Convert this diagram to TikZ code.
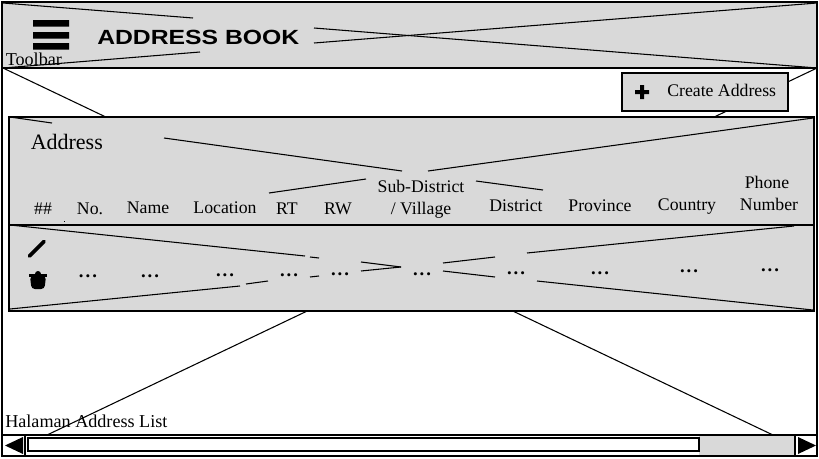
\documentclass[tikz,border=0pt]{standalone}
\usepackage{fontspec}
\setmainfont{Liberation Serif}
\newfontfamily\titlefont{Liberation Sans}
\definecolor{panelgray}{HTML}{D9D9D9}
\newcommand{\dotrow}{\textbf{.\hspace{1.5pt}.\hspace{1.5pt}.}}
\tikzset{
  thinline/.style={line width=0.8pt,black},
  boxline/.style={line width=1.6pt,black},
  grayfill/.style={boxline,fill=panelgray},
  lbl/.style={inner sep=0pt,anchor=base,font=\fontsize{13.3pt}{15pt}\selectfont},
  lblw/.style={lbl,anchor=base west},
  dotlbl/.style={inner sep=0pt,anchor=center,font=\fontsize{14pt}{15pt}\selectfont},
}
\begin{document}
\begin{tikzpicture}[x=0.75pt,y=-0.75pt]
\useasboundingbox (0,0) rectangle (819,458);
\fill[white] (0,0) rectangle (819,458);
% window crossing lines
\draw[thinline] (3,68) -- (817,456);
\draw[thinline] (817,68) -- (3,456);
% toolbar
\draw[grayfill] (2,2) rectangle (817,68);
\draw[thinline] (3,3) -- (193,18);
\draw[thinline] (3,68) -- (200,52);
\draw[thinline] (314,28) -- (817,68);
\draw[thinline] (314,43) -- (817,3);
\fill[black] (33,20) rectangle (69,26.5) (33,32) rectangle (69,38.5) (33,43) rectangle (69,49.5);
\node[inner sep=0pt,anchor=base west] (title) at (97,44) {\scalebox{1.205}[1]{\titlefont\bfseries\fontsize{15.4pt}{17pt}\selectfont ADDRESS BOOK}};
\node[lblw,font=\fontsize{13.6pt}{15pt}\selectfont] (toolbar) at (5.5,65) {Toolbar};
% create button
\draw[grayfill] (622,73) rectangle (788,111);
\fill[black] (640,85) rectangle (644,99) (635,90) rectangle (649,94);
\node[lblw] (create) at (667,96) {Create Address};
% header panel
\draw[grayfill] (9,117) rectangle (814,225);
\draw[thinline] (10,117) -- (52,123);
\draw[thinline] (164,138) -- (402,171);
\draw[thinline] (476,181) -- (543,190);
\draw[thinline] (813,118) -- (428,171);
\draw[thinline] (366,179) -- (269,193);
\fill[black] (64,220.5) rectangle (65,221.5);
\node[lblw,font=\fontsize{16.5pt}{18pt}\selectfont] (address) at (30.5,149) {Address};
\node[lbl] (h1) at (43,214) {\#\#};
\node[lbl] (h2) at (90,214) {No.};
\node[lbl] (h3) at (148,213) {Name};
\node[lbl] (h4) at (225,213) {Location};
\node[lbl] (h5) at (287,214) {RT};
\node[lbl] (h6) at (338,214) {RW};
\node[lbl] (h7a) at (421,192) {Sub-District};
\node[lbl] (h7b) at (421,214) {/ Village};
\node[lbl] (h8) at (516,211) {District};
\node[lbl] (h9) at (600,211) {Province};
\node[lbl] (h10) at (687,210) {Country};
\node[lbl] (h11a) at (767,188) {Phone};
\node[lbl] (h11b) at (769,210) {Number};
% data row
\draw[grayfill] (9,225) rectangle (814,311);
\draw[thinline] (10,225) -- (305,256);
\draw[thinline] (310,257) -- (319,258);
\draw[thinline] (361,262) -- (401,267);
\draw[thinline] (443,271) -- (495,277);
\draw[thinline] (537,281) -- (813,310);
\draw[thinline] (10,309) -- (240,286);
\draw[thinline] (246,284) -- (268,281);
\draw[thinline] (310,277) -- (319,276);
\draw[thinline] (361,271) -- (401,267);
\draw[thinline] (443,263) -- (495,257);
\draw[thinline] (527,253) -- (794,226);
% icons
\draw[black,line width=2.7pt,line cap=round] (29.5,256) -- (44,241.5);
\fill[black] (29,274) rectangle (47,276.5);
\fill[black] (38,274) ellipse (3 and 3);
\fill[black,rounded corners=2.5pt] (30,276) -- (46,276) -- (44.5,289) -- (31.5,289) -- cycle;
% row values
\node[dotlbl] (v1) at (88,276) {\dotrow};
\node[dotlbl] (v2) at (150,276) {\dotrow};
\node[dotlbl] (v3) at (225,275) {\dotrow};
\node[dotlbl] (v4) at (289,275) {\dotrow};
\node[dotlbl] (v5) at (340,274) {\dotrow};
\node[dotlbl] (v6) at (422,274) {\dotrow};
\node[dotlbl] (v7) at (516,273) {\dotrow};
\node[dotlbl] (v8) at (600,273) {\dotrow};
\node[dotlbl] (v9) at (689,271) {\dotrow};
\node[dotlbl] (v10) at (770,270) {\dotrow};
% page label
\node[lblw,font=\fontsize{13.6pt}{15pt}\selectfont] (page) at (5,427) {Halaman Address List};
% scrollbar
\draw[boxline,fill=panelgray] (2,435) rectangle (817,456);
\fill[white] (25,436) rectangle (699,455);
\draw[boxline,fill=white] (28,438) rectangle (699,451);
\draw[boxline,fill=white] (2,435) rectangle (25,456);
\draw[boxline,fill=white] (795,435) rectangle (817,456);
\fill[black] (5,445.5) -- (23,437) -- (23,454) -- cycle;
\fill[black] (798,437) -- (816,445.5) -- (798,454) -- cycle;
% outer frame
\draw[boxline] (2,2) rectangle (817,456);
\end{tikzpicture}
\end{document}
